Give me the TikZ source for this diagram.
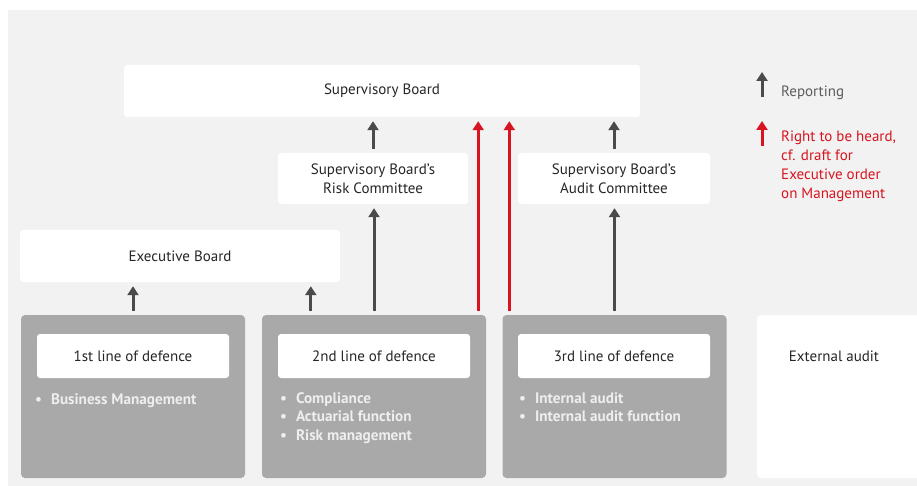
\documentclass[tikz,border=0pt]{standalone}
\usepackage{fontspec}
\setmainfont{PT Sans}
\usetikzlibrary{arrows.meta,calc}

\definecolor{bggrey}{HTML}{F2F2F2}
\definecolor{boxgrey}{HTML}{A9A9A9}
\definecolor{itemgrey}{HTML}{EEEEEE}
\definecolor{arrowgrey}{HTML}{4A4A4A}
\definecolor{heardred}{HTML}{D7141F}

\begin{document}
\begin{tikzpicture}[
    x = 1pt,
    y = -1pt,
    font = \fontsize{15}{19}\selectfont,
    board/.style = {
      fill = white,
      rounded corners = 3pt,
      inner sep = 0pt,
      align = center,
      text = black!85
    },
    linebox/.style = {
      fill = boxgrey,
      rounded corners = 4pt,
      inner sep = 0pt,
      minimum width = 224pt,
      minimum height = 163pt
    },
    linelabel/.style = {
      board,
      minimum width = 192pt,
      minimum height = 44pt
    },
    items/.style = {
      anchor = north west,
      align = left,
      inner sep = 0pt,
      text = itemgrey,
      font = \fontsize{15.2}{18.5}\selectfont\bfseries
    },
    report/.style = {
      draw = arrowgrey,
      line width = 3pt,
      -{Triangle[width=11pt,length=9pt]},
      shorten <= 4pt,
      shorten >= 4pt
    },
    heard/.style = {
      report,
      draw = heardred
    }
  ]
  \useasboundingbox (0,0) rectangle (917,486);
  \fill[bggrey] (8,10) rectangle (930,486);

  \node[board, minimum width=516pt, minimum height=52pt] (sup) at (382,91) {Supervisory Board};
  \node[board, minimum width=190pt, minimum height=51pt] (risk) at (373,178.5) {Supervisory Board's\\Risk Committee};
  \node[board, minimum width=192pt, minimum height=51pt] (audit) at (614,178.5) {Supervisory Board's\\Audit Committee};
  \node[board, minimum width=320pt, minimum height=52pt] (exec) at (180,256) {Executive Board};

  \node[linebox] (box1) at (133,396.5) {};
  \node[linebox] (box2) at (374,396.5) {};
  \node[linebox] (box3) at (614.5,396.5) {};
  \node[board, rounded corners=4pt, minimum width=176pt, minimum height=163pt] (ext) at (845,396.5) {};

  \node[linelabel] (label1) at (133,356) {1st line of defence};
  \node[linelabel] (label2) at (374,356) {2nd line of defence};
  \node[linelabel] (label3) at (614,356) {3rd line of defence};
  \node[board, fill=none] (exttext) at (834,356) {External audit};

  \node[items] (items1) at (35,393) {\textbullet\hspace{9pt}Business Management};
  \node[items] (items2) at (280,392) {\textbullet\hspace{9pt}Compliance\\
    \textbullet\hspace{9pt}Actuarial function\\
    \textbullet\hspace{9pt}Risk management};
  \node[items] (items3) at (519,392) {\textbullet\hspace{9pt}Internal audit\\
    \textbullet\hspace{9pt}Internal audit function};

  \coordinate (e2) at ($(box2.north west)+(49,0)$);
  \coordinate (h2) at ($(box2.north east)+(-8,0)$);
  \coordinate (h3) at ($(box3.north west)+(7,0)$);

  \draw[report] (risk.north) -- (risk.north |- sup.south);
  \draw[report] (audit.north) -- (audit.north |- sup.south);
  \draw[report] (box2.north) -- (box2.north |- risk.south);
  \draw[report] (box3.north) -- (box3.north |- audit.south);
  \draw[report] (box1.north) -- (box1.north |- exec.south);
  \draw[report] (e2) -- (e2 |- exec.south);
  \draw[heard] (h2) -- (h2 |- sup.south);
  \draw[heard] (h3) -- (h3 |- sup.south);

  \coordinate (repfoot) at (762,101);
  \coordinate (rephead) at (762,68);
  \coordinate (heardfoot) at (762,150);
  \coordinate (heardhead) at (762,117);
  \draw[report] (repfoot) -- (rephead);
  \draw[heard] (heardfoot) -- (heardhead);

  \node[anchor=west, inner sep=0pt, text=arrowgrey!90] (reptext) at (781,93) {Reporting};
  \node[anchor=north west, align=left, inner sep=0pt, text=heardred] (heardtext) at (781,131)
    {Right to be heard,\\cf. draft for\\Executive order\\on Management};
\end{tikzpicture}
\end{document}
